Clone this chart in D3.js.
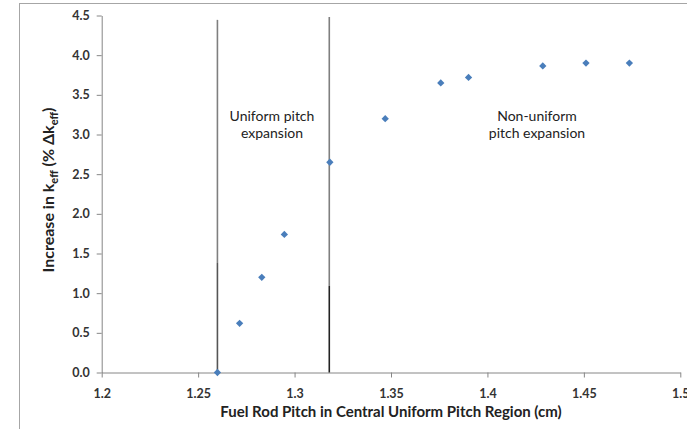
<!DOCTYPE html>
<html><head><meta charset="utf-8">
<script src="https://cdn.jsdelivr.net/npm/d3@7"></script>
<style>body{margin:0;background:#fff}svg{display:block}</style>
</head><body><div id="c"></div>
<script>
const pitch = [1.260, 1.2715, 1.283, 1.2947, 1.3183, 1.347, 1.3758, 1.3902, 1.4287, 1.4511, 1.4736];
const deltaK = [0.00, 0.62, 1.20, 1.74, 2.65, 3.20, 3.65, 3.72, 3.865, 3.90, 3.90];
const xTicks = [1.2, 1.25, 1.3, 1.35, 1.4, 1.45, 1.5];
const xTickLabels = ["1.2", "1.25", "1.3", "1.35", "1.4", "1.45", "1.5"];
const yTicks = [0, 0.5, 1, 1.5, 2, 2.5, 3, 3.5, 4, 4.5];
const dividerX = [1.26, 1.318];
const dividerTop = [4.445, 4.48];
const dividerSplit = [1.38, 1.09];
const notes = [
  {x: 1.2883, y: 3.17, lines: ["Uniform pitch", "expansion"]},
  {x: 1.4257, y: 3.17, lines: ["Non-uniform", "pitch expansion"]}
];

const W = 687, H = 429;
const m = {l: 101.7, t: 15.5, r: 680.3, b: 372.5};
const svg = d3.select("#c").append("svg").attr("width", W).attr("height", H);
const font = "Lato, 'Open Sans', sans-serif";

svg.append("rect").attr("x", 19.5).attr("y", 3.5).attr("width", 700).attr("height", 450)
  .attr("fill", "none").attr("stroke", "#a6a6a6").attr("stroke-width", 1);

const x = d3.scaleLinear().domain([1.2, 1.5]).range([m.l, m.r]);
const y = d3.scaleLinear().domain([0, 4.5]).range([m.b, m.t]);

const xAxis = svg.append("g").attr("transform", `translate(0,${m.b})`)
  .call(d3.axisBottom(x).tickValues(xTicks).tickFormat((d, i) => xTickLabels[i]).tickSize(5).tickSizeOuter(0));
const yAxis = svg.append("g").attr("transform", `translate(${m.l},0)`)
  .call(d3.axisLeft(y).tickValues(yTicks).tickFormat(d3.format(".1f")).tickSize(5).tickSizeOuter(0));
[xAxis, yAxis].forEach(g => {
  g.select(".domain").attr("stroke", "#868686");
  g.selectAll(".tick line").attr("stroke", "#868686");
  g.selectAll("text").attr("fill", "#333").style("font-family", font).style("font-size", "12.5px").style("font-weight", "bold");
});
xAxis.selectAll("text").attr("dy", "1.4em");
yAxis.selectAll("text").attr("x", -12);

// divider lines
dividerX.forEach((dx, i) => {
  svg.append("line").attr("x1", x(dx)).attr("x2", x(dx)).attr("y1", y(dividerTop[i])).attr("y2", y(dividerSplit[i]))
    .attr("stroke", "#7f7f7f").attr("stroke-width", 1.6);
  svg.append("line").attr("x1", x(dx)).attr("x2", x(dx)).attr("y1", y(dividerSplit[i])).attr("y2", y(0))
    .attr("stroke", i === 0 ? "#555" : "#222").attr("stroke-width", 1.6);
});

// points
const sym = d3.symbol().type(d3.symbolDiamond2).size(34);
svg.append("g").selectAll("path").data(pitch).join("path")
  .attr("d", sym).attr("transform", (d, i) => `translate(${x(d)},${y(deltaK[i])})`)
  .attr("fill", "#4a7ebb");

// annotations
notes.forEach(n => {
  const t = svg.append("text").attr("x", x(n.x)).attr("y", y(n.y)).attr("text-anchor", "middle")
    .style("font-family", font).style("font-size", "14px").attr("fill", "#222");
  n.lines.forEach((l, i) => t.append("tspan").attr("x", x(n.x)).attr("dy", i ? 17 : 0).text(l));
});

// axis titles
svg.append("text").attr("x", 391).attr("y", 417).attr("text-anchor", "middle")
  .style("font-family", font).style("font-size", "15px").style("font-weight", "bold").attr("fill", "#222")
  .text("Fuel Rod Pitch in Central Uniform Pitch Region (cm)");

const yt = svg.append("text").attr("transform", "translate(54,190) rotate(-90)").attr("text-anchor", "middle")
  .style("font-family", font).style("font-size", "16px").style("font-weight", "bold").attr("fill", "#222");
yt.append("tspan").text("Increase in k");
yt.append("tspan").attr("dy", 4).style("font-size", "11px").text("eff");
yt.append("tspan").attr("dy", -4).text(" (% Δk");
yt.append("tspan").attr("dy", 4).style("font-size", "11px").text("eff");
yt.append("tspan").attr("dy", -4).text(")");
</script></body></html>
